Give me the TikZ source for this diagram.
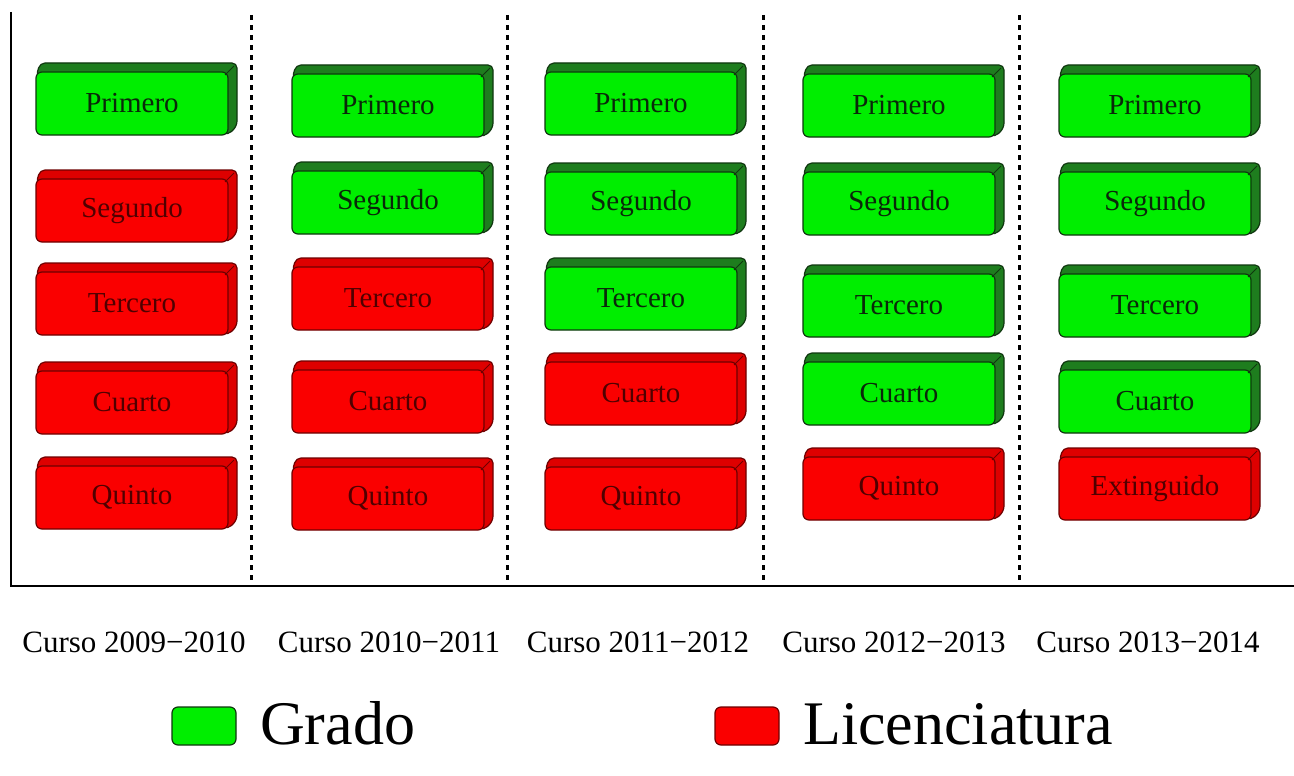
\documentclass[tikz,border=0pt]{standalone}
\usepackage{fontspec}
\setmainfont{Liberation Serif}
\definecolor{gfill}{RGB}{0,238,0}
\definecolor{gside}{RGB}{30,125,30}
\definecolor{gline}{RGB}{15,55,15}
\definecolor{gtext}{RGB}{10,40,10}
\definecolor{rfill}{RGB}{250,0,0}
\definecolor{rside}{RGB}{222,0,0}
\definecolor{rline}{RGB}{110,0,0}
\definecolor{rtext}{RGB}{80,0,0}
\tikzset{
  frontg/.style={rectangle, rounded corners=6pt, minimum width=192pt, minimum height=63pt, inner sep=0pt,
    fill=gfill, draw=gline, line width=1.2pt, text=gtext, font=\fontsize{29}{34}\selectfont},
  frontr/.style={frontg, fill=rfill, draw=rline, text=rtext},
  axisline/.style={line width=2.5pt, black},
  sepline/.style={line width=3pt, black, dash pattern=on 5pt off 5pt},
  yearlbl/.style={anchor=base, inner sep=0pt, font=\fontsize{31}{36}\selectfont},
  legbox/.style={rectangle, rounded corners=6pt, minimum width=64pt, minimum height=38pt, inner sep=0pt, line width=1.2pt},
  legtext/.style={anchor=base west, inner sep=0pt, font=\fontsize{62}{70}\selectfont}
}
\newcommand\cajaT[5]{%
  \filldraw[fill=#4side, draw=#4line, line width=1.2pt, rounded corners=5pt]
    (#2,#3+5) -- (#2+4,#3-9) -- (#2+201,#3-9) -- (#2+201,#3+54) -- (#2+192,#3+63) -- cycle;
  \node[front#4] (#1) at (#2+96,#3+31.5) {#5};
  \draw[#4line, line width=1pt] (#2+189,#3+3) -- (#2+198,#3-6);
}
\begin{document}
\begin{tikzpicture}[x=1pt,y=-1pt]
\useasboundingbox[fill=white] (0,0) rectangle (1294,776);
% axes
\coordinate (otop) at (11,12);
\coordinate (orig) at (11,586);
\coordinate (xend) at (1294,586);
\draw[axisline] (otop) -- (orig) -- (xend);
% separators
\foreach \i/\x in {1/251,2/507,3/763,4/1019}{
  \coordinate (s\i t) at (\x,15);
  \coordinate (s\i b) at (\x,586);
  \draw[sepline] (s\i t) -- (s\i b);
}
% column 1
\cajaT{a1}{36}{72}{g}{Primero}
\cajaT{a2}{36}{179}{r}{Segundo}
\cajaT{a3}{36}{272}{r}{Tercero}
\cajaT{a4}{36}{371}{r}{Cuarto}
\cajaT{a5}{36}{466}{r}{Quinto}
% column 2
\cajaT{b1}{292}{74}{g}{Primero}
\cajaT{b2}{292}{171}{g}{Segundo}
\cajaT{b3}{292}{267}{r}{Tercero}
\cajaT{b4}{292}{370}{r}{Cuarto}
\cajaT{b5}{292}{467}{r}{Quinto}
% column 3
\cajaT{c1}{545}{72}{g}{Primero}
\cajaT{c2}{545}{172}{g}{Segundo}
\cajaT{c3}{545}{267}{g}{Tercero}
\cajaT{c4}{545}{362}{r}{Cuarto}
\cajaT{c5}{545}{467}{r}{Quinto}
% column 4
\cajaT{d1}{803}{74}{g}{Primero}
\cajaT{d2}{803}{172}{g}{Segundo}
\cajaT{d3}{803}{274}{g}{Tercero}
\cajaT{d4}{803}{362}{g}{Cuarto}
\cajaT{d5}{803}{457}{r}{Quinto}
% column 5
\cajaT{e1}{1059}{74}{g}{Primero}
\cajaT{e2}{1059}{172}{g}{Segundo}
\cajaT{e3}{1059}{274}{g}{Tercero}
\cajaT{e4}{1059}{370}{g}{Cuarto}
\cajaT{e5}{1059}{457}{r}{Extinguido}
% year labels
\node[yearlbl] (y1) at (134,652) {Curso 2009−2010};
\node[yearlbl] (y2) at (389,652) {Curso 2010−2011};
\node[yearlbl] (y3) at (638,652) {Curso 2011−2012};
\node[yearlbl] (y4) at (894,652) {Curso 2012−2013};
\node[yearlbl] (y5) at (1148,652) {Curso 2013−2014};
% legend
\node[legbox, fill=gfill, draw=gline] (lg) at (204,726) {};
\node[legtext] (lgt) at (260,744) {Grado};
\node[legbox, fill=rfill, draw=rline] (lr) at (747,726) {};
\node[legtext] (lrt) at (803,744) {Licenciatura};
\end{tikzpicture}
\end{document}
